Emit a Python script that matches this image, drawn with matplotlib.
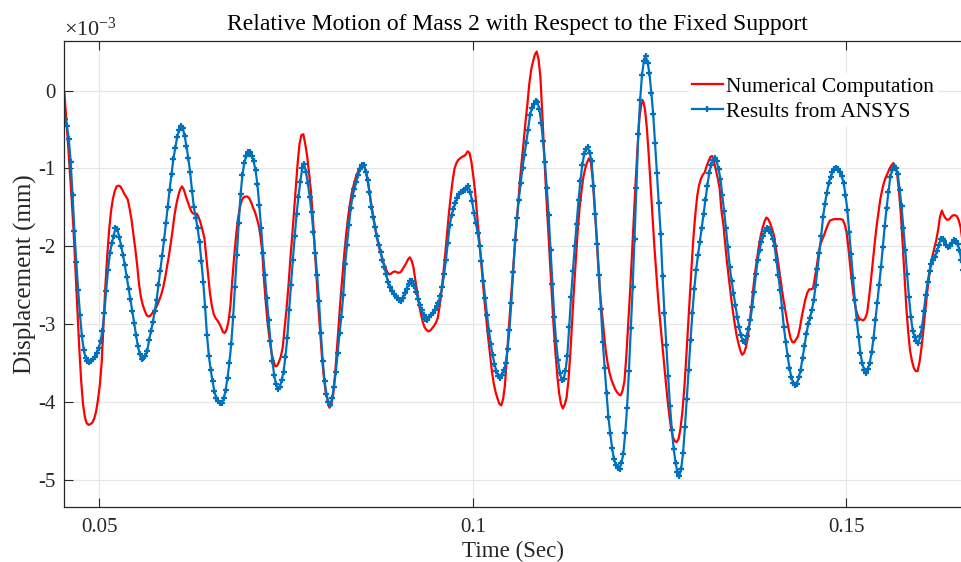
import numpy as np
import matplotlib
matplotlib.use("Agg")
import matplotlib.pyplot as plt

plt.rcParams['font.family'] = ['Liberation Serif', 'DejaVu Serif']
plt.rcParams['mathtext.fontset'] = 'custom'
plt.rcParams['mathtext.rm'] = 'Liberation Serif'
plt.rcParams['axes.unicode_minus'] = False

# sampling of the two solutions (s)
t0_num, dt_num = 0.0453, 0.00025
t0_ansys, dt_ansys = 0.0454, 0.00025

# displacement, x 1e-3 mm
num_disp = [
    -0.02, -0.35, -0.69, -1.05, -1.42, -1.82, -2.33, -2.82, -3.30, -3.72,
    -4.02, -4.19, -4.27, -4.29, -4.28, -4.26, -4.21, -4.12, -3.97, -3.78,
    -3.49, -2.98, -2.50, -2.11, -1.79, -1.55, -1.39, -1.29, -1.23, -1.22,
    -1.23, -1.27, -1.32, -1.36, -1.40, -1.52, -1.66, -1.84, -2.03, -2.24,
    -2.48, -2.65, -2.75, -2.82, -2.88, -2.90, -2.89, -2.86, -2.83, -2.79,
    -2.74, -2.68, -2.61, -2.52, -2.40, -2.26, -2.12, -1.96, -1.79, -1.60,
    -1.46, -1.35, -1.27, -1.23, -1.27, -1.35, -1.42, -1.49, -1.55, -1.58,
    -1.58, -1.58, -1.63, -1.70, -1.79, -1.89, -2.12, -2.36, -2.60, -2.76,
    -2.87, -2.92, -2.95, -2.99, -3.04, -3.10, -3.11, -3.06, -2.95, -2.75,
    -2.42, -2.12, -1.86, -1.65, -1.50, -1.41, -1.37, -1.36, -1.36, -1.38,
    -1.43, -1.50, -1.55, -1.63, -1.72, -1.86, -2.06, -2.45, -2.75, -3.01,
    -3.20, -3.37, -3.47, -3.54, -3.53, -3.48, -3.41, -3.29, -3.05, -2.80,
    -2.52, -2.18, -1.88, -1.56, -1.23, -0.92, -0.68, -0.57, -0.56, -0.68,
    -0.83, -1.04, -1.27, -1.59, -1.98, -2.38, -2.75, -3.09, -3.42, -3.68,
    -3.87, -3.98, -4.07, -4.03, -3.90, -3.64, -3.32, -2.98, -2.65, -2.37,
    -2.08, -1.83, -1.62, -1.45, -1.31, -1.21, -1.12, -1.06, -1.00, -0.97,
    -0.955, -0.99, -1.08, -1.22, -1.40, -1.55, -1.69, -1.84, -1.95, -2.05,
    -2.13, -2.21, -2.28, -2.33, -2.36, -2.35, -2.33, -2.32, -2.33, -2.34,
    -2.33, -2.30, -2.26, -2.22, -2.17, -2.14, -2.18, -2.27, -2.43, -2.58,
    -2.75, -2.87, -2.97, -3.04, -3.07, -3.09, -3.08, -3.05, -3.02, -2.98,
    -2.92, -2.77, -2.58, -2.35, -2.10, -1.83, -1.57, -1.35, -1.15, -1.00,
    -0.93, -0.89, -0.87, -0.85, -0.84, -0.82, -0.78, -0.80, -0.91, -1.09,
    -1.29, -1.57, -1.86, -2.14, -2.42, -2.69, -2.93, -3.17, -3.39, -3.60,
    -3.76, -3.87, -3.95, -4.02, -4.04, -3.96, -3.78, -3.42, -3.07, -2.73,
    -2.41, -2.10, -1.78, -1.48, -1.16, -0.90, -0.66, -0.40, -0.18, 0.08,
    0.26, 0.37, 0.46, 0.50, 0.40, 0.17, -0.30, -0.80, -1.29, -1.72,
    -2.16, -2.58, -3.00, -3.35, -3.65, -3.88, -4.02, -4.08, -4.03, -3.94,
    -3.72, -3.38, -2.95, -2.53, -2.15, -1.79, -1.50, -1.29, -1.11, -1.00,
    -0.92, -0.87, -0.92, -1.14, -1.49, -1.85, -2.26, -2.62, -2.87, -3.11,
    -3.34, -3.50, -3.62, -3.71, -3.77, -3.83, -3.87, -3.90, -3.91, -3.85,
    -3.73, -3.41, -3.00, -2.59, -2.12, -1.65, -1.17, -0.74, -0.36, -0.18,
    -0.13, -0.24, -0.48, -0.82, -1.21, -1.59, -1.99, -2.33, -2.65, -2.93,
    -3.19, -3.44, -3.70, -3.95, -4.16, -4.34, -4.45, -4.50, -4.51, -4.47,
    -4.34, -4.13, -3.84, -3.47, -3.06, -2.63, -2.24, -1.87, -1.58, -1.35,
    -1.21, -1.13, -1.08, -1.05, -0.97, -0.91, -0.85, -0.84, -0.92, -1.02,
    -1.13, -1.26, -1.55, -1.72, -1.98, -2.22, -2.43, -2.63, -2.82, -2.98,
    -3.13, -3.24, -3.33, -3.39, -3.37, -3.30, -3.18, -2.98, -2.78, -2.54,
    -2.33, -2.16, -2.00, -1.86, -1.76, -1.68, -1.63, -1.65, -1.70, -1.77,
    -1.85, -2.00, -2.15, -2.32, -2.49, -2.66, -2.80, -2.94, -3.07, -3.18,
    -3.23, -3.23, -3.19, -3.15, -3.04, -2.90, -2.78, -2.67, -2.59, -2.55,
    -2.55, -2.54, -2.40, -2.26, -2.08, -1.97, -1.91, -1.85, -1.78, -1.72,
    -1.67, -1.66, -1.65, -1.65, -1.65, -1.65, -1.65, -1.66, -1.72, -1.82,
    -2.03, -2.27, -2.49, -2.68, -2.81, -2.89, -2.93, -2.94, -2.95, -2.92,
    -2.85, -2.66, -2.44, -2.20, -1.97, -1.75, -1.57, -1.40, -1.28, -1.18,
    -1.11, -1.06, -1.00, -0.96, -0.93, -0.97, -1.06, -1.28, -1.57, -1.96,
    -2.38, -2.79, -3.10, -3.34, -3.47, -3.56, -3.60, -3.60, -3.49, -3.32,
    -3.10, -2.86, -2.62, -2.42, -2.24, -2.12, -2.02, -1.92, -1.79, -1.62,
    -1.54, -1.60, -1.64, -1.66, -1.65, -1.62, -1.60, -1.60, -1.61, -1.66,
    -1.75, -1.92, -2.10,
]

ansys_disp = [
    -0.36, -0.46, -0.62, -0.92, -1.34, -1.80, -2.20, -2.56, -2.88, -3.15,
    -3.33, -3.43, -3.47, -3.48, -3.47, -3.45, -3.42, -3.37, -3.30, -3.22,
    -3.08, -2.86, -2.57, -2.30, -2.09, -1.96, -1.86, -1.77, -1.78, -1.88,
    -1.99, -2.11, -2.24, -2.39, -2.54, -2.68, -2.83, -2.98, -3.14, -3.28,
    -3.38, -3.44, -3.43, -3.40, -3.34, -3.20, -3.09, -2.97, -2.83, -2.69,
    -2.50, -2.31, -2.12, -1.92, -1.70, -1.49, -1.27, -1.07, -0.88, -0.74,
    -0.60, -0.51, -0.46, -0.48, -0.58, -0.71, -0.87, -1.05, -1.29, -1.50,
    -1.63, -1.77, -1.94, -2.19, -2.46, -2.78, -3.14, -3.40, -3.59, -3.73,
    -3.86, -3.95, -3.99, -4.01, -4.01, -3.95, -3.84, -3.69, -3.49, -3.25,
    -2.91, -2.52, -2.11, -1.70, -1.33, -1.08, -0.93, -0.84, -0.79, -0.79,
    -0.84, -0.91, -1.02, -1.20, -1.47, -1.76, -2.08, -2.37, -2.66, -2.94,
    -3.22, -3.47, -3.65, -3.77, -3.83, -3.80, -3.72, -3.61, -3.42, -3.18,
    -2.82, -2.49, -2.17, -1.87, -1.58, -1.36, -1.17, -1.00, -0.94, -1.04,
    -1.19, -1.36, -1.56, -1.81, -2.09, -2.37, -2.70, -3.11, -3.47, -3.73,
    -3.90, -4.00, -4.04, -3.95, -3.80, -3.61, -3.37, -3.11, -2.90, -2.62,
    -2.23, -1.98, -1.73, -1.51, -1.35, -1.26, -1.17, -1.08, -1.01, -0.96,
    -0.96, -1.04, -1.15, -1.30, -1.49, -1.62, -1.75, -1.87, -1.98, -2.07,
    -2.17, -2.26, -2.36, -2.46, -2.52, -2.57, -2.61, -2.64, -2.66, -2.69,
    -2.70, -2.66, -2.60, -2.54, -2.48, -2.44, -2.44, -2.51, -2.58, -2.67,
    -2.75, -2.82, -2.88, -2.93, -2.94, -2.91, -2.88, -2.85, -2.81, -2.77,
    -2.72, -2.63, -2.52, -2.36, -2.17, -1.95, -1.73, -1.60, -1.52, -1.44,
    -1.38, -1.33, -1.30, -1.29, -1.28, -1.25, -1.23, -1.30, -1.42, -1.57,
    -1.70, -1.83, -1.99, -2.19, -2.44, -2.66, -2.88, -3.08, -3.25, -3.39,
    -3.51, -3.60, -3.66, -3.69, -3.65, -3.59, -3.50, -3.32, -3.07, -2.72,
    -2.33, -1.92, -1.63, -1.40, -1.19, -0.99, -0.83, -0.67, -0.50, -0.32,
    -0.22, -0.17, -0.14, -0.15, -0.24, -0.41, -0.65, -0.92, -1.25, -1.60,
    -2.04, -2.48, -2.90, -3.22, -3.46, -3.62, -3.72, -3.70, -3.60, -3.40,
    -3.04, -2.65, -2.31, -2.00, -1.71, -1.41, -1.16, -0.96, -0.82, -0.75,
    -0.73, -0.80, -0.91, -1.22, -1.59, -1.97, -2.37, -2.80, -3.23, -3.56,
    -3.88, -4.19, -4.40, -4.59, -4.73, -4.80, -4.84, -4.85, -4.78, -4.66,
    -4.40, -4.07, -3.60, -3.05, -2.52, -1.90, -1.25, -0.56, -0.12, 0.20,
    0.38, 0.44, 0.36, 0.22, -0.03, -0.30, -0.67, -1.06, -1.44, -1.84,
    -2.38, -2.85, -3.26, -3.66, -4.05, -4.35, -4.60, -4.78, -4.90, -4.95,
    -4.85, -4.65, -4.32, -3.96, -3.58, -3.20, -2.85, -2.55, -2.30, -2.11,
    -1.94, -1.76, -1.58, -1.40, -1.22, -1.06, -0.95, -0.89, -0.87, -0.91,
    -1.01, -1.13, -1.34, -1.55, -1.77, -2.01, -2.26, -2.44, -2.60, -2.75,
    -2.90, -3.04, -3.14, -3.21, -3.23, -3.15, -3.06, -2.95, -2.78, -2.58,
    -2.36, -2.17, -2.04, -1.94, -1.86, -1.80, -1.77, -1.78, -1.83, -1.90,
    -1.99, -2.18, -2.37, -2.56, -2.79, -3.04, -3.23, -3.41, -3.56, -3.68,
    -3.75, -3.78, -3.76, -3.68, -3.58, -3.43, -3.28, -3.13, -3.00, -2.92,
    -2.81, -2.69, -2.50, -2.29, -2.09, -1.86, -1.62, -1.45, -1.31, -1.19,
    -1.11, -1.05, -1.01, -1.00, -1.01, -1.05, -1.10, -1.19, -1.34, -1.53,
    -1.82, -2.10, -2.40, -2.69, -2.94, -3.16, -3.37, -3.50, -3.59, -3.63,
    -3.57, -3.49, -3.36, -3.18, -2.95, -2.72, -2.49, -2.27, -2.01, -1.74,
    -1.51, -1.30, -1.11, -1.02, -0.97, -1.00, -1.07, -1.27, -1.48, -1.76,
    -2.05, -2.36, -2.65, -2.90, -3.08, -3.16, -3.21, -3.24, -3.15, -3.04,
    -2.83, -2.62, -2.46, -2.31, -2.22, -2.17, -2.13, -2.06, -1.98, -1.91,
    -1.90, -1.93, -1.98, -2.01, -1.99, -1.95, -1.92, -1.93, -1.97, -2.04,
    -2.17, -2.30,
]

t_num = t0_num + dt_num * np.arange(len(num_disp))
t_ansys = t0_ansys + dt_ansys * np.arange(len(ansys_disp))

xticks = [0.05, 0.1, 0.15]
xticklabels = ['0.05', '0.1', '0.15']
yticks = [0, -1, -2, -3, -4, -5]

fig = plt.figure(figsize=(9.62, 5.62), dpi=100)
ax = fig.add_axes([0.0668, 0.0984, 0.9332, 0.8292])

dark = '#262626'
ax.plot(t_num, num_disp, color='#FF0000', lw=1.6, label='Numerical Computation')
ax.plot(t_ansys, ansys_disp, color='#0072BD', lw=1.6, marker='+', ms=5,
        mew=1.6, label='Results from ANSYS')

ax.set_xlim(0.04529, 0.1655)
ax.set_ylim(-5.34, 0.64)
ax.set_xticks(xticks)
ax.set_xticklabels(xticklabels)
ax.set_yticks(yticks)
ax.set_yticklabels([str(v) for v in yticks])

ax.grid(True, color='#E6E6E6', lw=0.8)
ax.set_axisbelow(True)
for side in ['left', 'bottom', 'top']:
    ax.spines[side].set_color(dark)
    ax.spines[side].set_linewidth(0.9)
ax.spines['right'].set_visible(False)
ax.tick_params(direction='in', length=6.5, width=0.8, colors=dark,
               labelsize=15, top=True, pad=8)
ax.tick_params(axis='y', pad=6)

ax.set_title('Relative Motion of Mass 2 with Respect to the Fixed Support',
             fontsize=17, color='black', pad=8, x=0.505)
ax.set_xlabel('Time (Sec)', fontsize=16.6, color=dark, labelpad=3)
ax.set_ylabel('Displacement (mm)', fontsize=18, color=dark, labelpad=1)
ax.text(0.0, 1.011, r'$\times\mathregular{10^{-3}}$', transform=ax.transAxes,
        fontsize=16, color=dark, ha='left', va='baseline')

leg = ax.legend(loc='upper left', bbox_to_anchor=(677 / 962, 1 - 62 / 562),
                bbox_transform=fig.transFigure, fontsize=15.4, frameon=True,
                fancybox=False, framealpha=1, handlelength=1.45,
                handletextpad=0.15, labelspacing=0.22, borderpad=0.2,
                numpoints=1)
leg.get_frame().set_edgecolor('none')
leg.get_frame().set_facecolor('white')

fig.savefig('out.png', dpi=100)
